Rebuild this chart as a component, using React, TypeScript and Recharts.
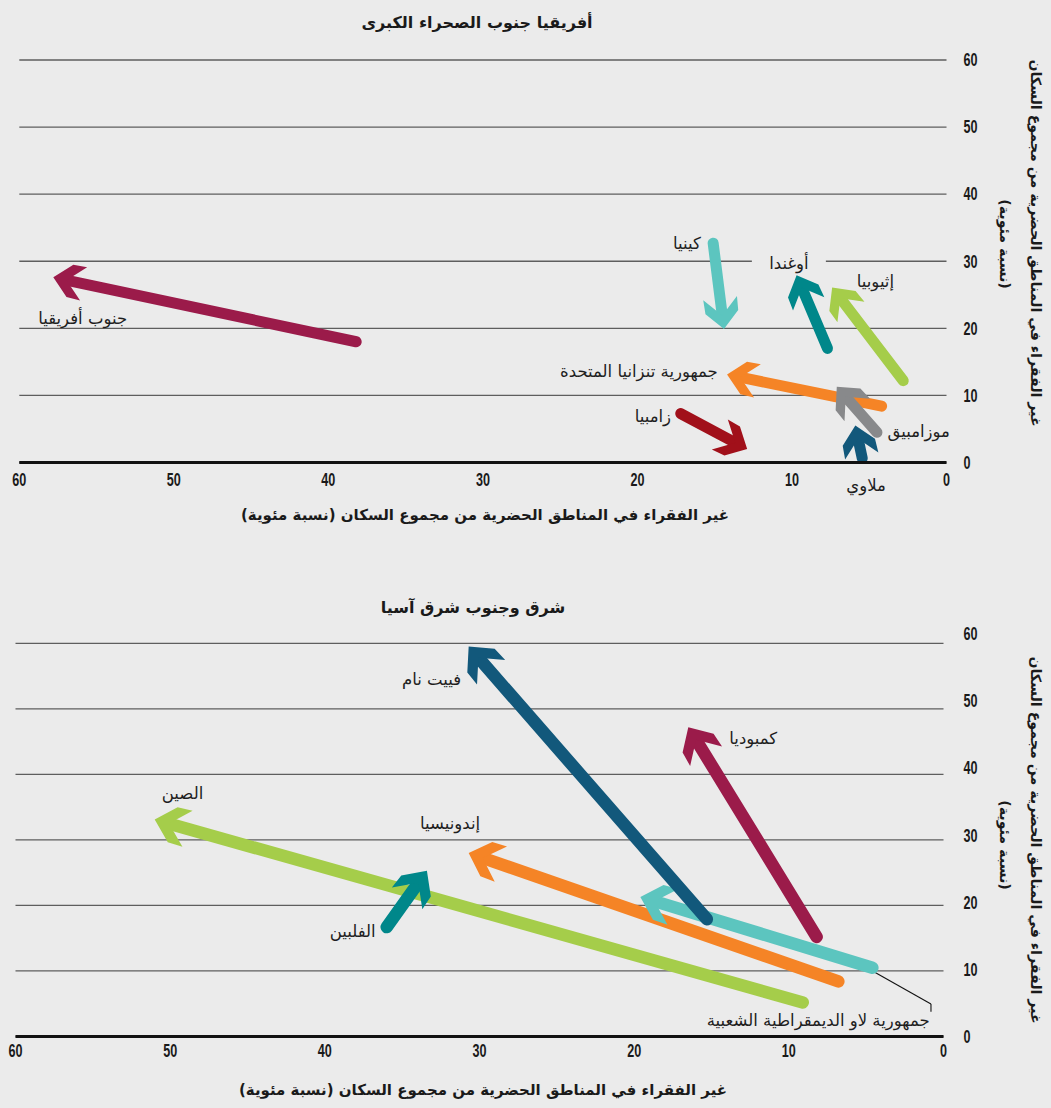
import React from 'react';
import { ComposedChart, XAxis, YAxis, CartesianGrid, ReferenceLine, ReferenceDot } from 'recharts';

// ---------- Data: Sub-Saharan Africa ----------
const africaCountries = ['جنوب أفريقيا', 'كينيا', 'أوغندا', 'إثيوبيا', 'جمهورية تنزانيا المتحدة', 'موزامبيق', 'ملاوي', 'زامبيا'];
const africaStartX = [38.2, 15.1, 7.7, 2.8, 4.2, 4.5, 5.45, 17.2];
const africaStartY = [18.0, 32.7, 17.0, 12.2, 8.4, 4.5, 0.6, 7.3];
const africaEndX = [57.8, 14.4, 9.7, 7.4, 14.2, 7.1, 5.9, 12.9];
const africaEndY = [27.6, 19.9, 27.9, 26.1, 13.1, 11.3, 5.5, 2.0];

// ---------- Data: East and South-East Asia ----------
const asiaCountries = ['الصين', 'إندونيسيا', 'جمهورية لاو الديمقراطية الشعبية', 'كمبوديا', 'فييت نام', 'الفلبين'];
const asiaStartX = [9.1, 6.8, 4.6, 8.2, 15.3, 36.0];
const asiaStartY = [5.2, 8.4, 10.5, 15.2, 17.9, 16.7];
const asiaEndX = [51.0, 30.7, 19.6, 16.5, 30.7, 33.4];
const asiaEndY = [33.1, 28.0, 21.3, 47.2, 59.5, 25.3];

// ---------- Tick values ----------
const xTicks = [0, 10, 20, 30, 40, 50, 60];
const yTicks = [0, 10, 20, 30, 40, 50, 60];

// ---------- Text ----------
const africaTitle = 'أفريقيا جنوب الصحراء الكبرى';
const asiaTitle = 'شرق وجنوب شرق آسيا';
const xTitle = 'غير الفقراء في المناطق الحضرية من مجموع السكان (نسبة مئوية)';
const yTitle1 = 'غير الفقراء في المناطق الحضرية من مجموع السكان';
const yTitle2 = '(نسبة مئوية)';

// ---------- Annotation placement (data units) ----------
const africaLabelX = [55.9, 16.8, 10.2, 4.6, 19.9, 1.8, 5.2, 19.0];
const africaLabelY = [21.5, 32.7, 29.7, 27.0, 13.55, 4.6, -3.4, 6.8];
const asiaLabelX = [49.2, 31.9, 8.1, 12.3, 33.1, 38.2];
const asiaLabelY = [37.1, 32.5, 2.5, 45.5, 54.4, 16.0];
const laoLeaderX = [4.96, 0.81, 0.81];
const laoLeaderY = [10.5, 4.96, 3.78];

// ---------- Styles ----------
const BG = '#ebebeb';
const MAROON = '#9b1b4a';
const LTEAL = '#5cc5bf';
const DTEAL = '#00878a';
const LGREEN = '#a5cd4a';
const ORANGE = '#f58426';
const GRAY = '#88898b';
const DBLUE = '#12587b';
const DRED = '#a1101a';
const africaColors = [MAROON, LTEAL, DTEAL, LGREEN, ORANGE, GRAY, DBLUE, DRED];
const asiaColors = [LGREEN, ORANGE, LTEAL, MAROON, DBLUE, DTEAL];
const ARABIC = "'DejaVu Sans', 'Noto Sans', sans-serif";
const NUMFONT = "'Liberation Sans', 'DejaVu Sans', sans-serif";

function makeArrow(color: string, width: number, k: number) {
  return (props: any) => {
    const { x1, y1, x2, y2 } = props;
    const dx = x2 - x1;
    const dy = y2 - y1;
    const len = Math.hypot(dx, dy) || 1;
    const ux = dx / len;
    const uy = dy / len;
    const nx = -uy;
    const ny = ux;
    const P = (back: number, side: number) =>
      `${x2 - back * k * ux + side * k * nx},${y2 - back * k * uy + side * k * ny}`;
    const sx = x2 - 15.5 * k * ux;
    const sy = y2 - 15.5 * k * uy;
    return (
      <g>
        <line x1={x1} y1={y1} x2={sx} y2={sy} stroke={color} strokeWidth={width} strokeLinecap="round" />
        <polygon
          points={[P(0, 0), P(17, 16.5), P(31, 17), P(13.5, 0), P(31, -17), P(17, -16.5)].join(' ')}
          fill={color}
        />
      </g>
    );
  };
}

function makeLabel(text: string, withBg: boolean) {
  return (props: any) => {
    const { cx, cy } = props;
    return (
      <g>
        {withBg && <rect x={cx - 37} y={cy - 11} width={74} height={22} fill={BG} />}
        <text x={cx} y={cy} textAnchor="middle" dominantBaseline="central" fontFamily={ARABIC} fontSize={16.5} fill="#1e1e1e">
          {text}
        </text>
      </g>
    );
  };
}

function NumText(props: { x: number; y: number; anchor: 'start' | 'middle'; value: number }) {
  return (
    <g transform={`translate(${props.x},${props.y}) scale(0.72,1)`}>
      <text x={0} y={0} textAnchor={props.anchor} dominantBaseline="central" fontFamily={NUMFONT} fontSize={17.5} fontWeight={700} fill="#1a1a1a">
        {props.value}
      </text>
    </g>
  );
}

function XTick(dyOff: number) {
  return (p: any) => <NumText x={p.x} y={p.y + dyOff} anchor="middle" value={p.payload.value} />;
}

function YTick(dxOff: number, drift: number) {
  return (p: any) => <NumText x={p.x + dxOff} y={p.y - p.payload.value * drift} anchor="start" value={p.payload.value} />;
}

type PanelProps = {
  width: number;
  height: number;
  margin: { top: number; right: number; bottom: number; left: number };
  xAxisHeight: number;
  yAxisWidth: number;
  names: string[];
  sx: number[];
  sy: number[];
  ex: number[];
  ey: number[];
  lx: number[];
  ly: number[];
  colors: string[];
  strokeW: number;
  headK: number;
  xTickDy: number;
  yTickDx: number;
  yDrift: number;
  bgLabels: number[];
  leader?: { x: number[]; y: number[] };
};

function Panel(p: PanelProps) {
  const data = p.sx.map((x, i) => ({ x, y: p.sy[i] }));
  return (
    <ComposedChart width={p.width} height={p.height} margin={p.margin} data={data}>
      <CartesianGrid horizontal vertical={false} stroke="#5e5e5e" strokeWidth={1.3} />
      <XAxis
        type="number"
        dataKey="x"
        domain={[0, 60]}
        ticks={xTicks}
        interval={0}
        reversed
        allowDataOverflow
        height={p.xAxisHeight}
        axisLine={{ stroke: '#111', strokeWidth: 3 }}
        tickLine={false}
        tickSize={0}
        tickMargin={0}
        tick={XTick(p.xTickDy)}
      />
      <YAxis
        type="number"
        dataKey="y"
        orientation="right"
        domain={[0, 60]}
        ticks={yTicks}
        interval={0}
        allowDataOverflow
        width={p.yAxisWidth}
        axisLine={false}
        tickLine={false}
        tickSize={0}
        tickMargin={0}
        tick={YTick(p.yTickDx, p.yDrift)}
      />
      {p.leader &&
        p.leader.x.slice(1).map((x, i) => (
          <ReferenceLine
            key={'ld' + i}
            segment={[
              { x: p.leader!.x[i], y: p.leader!.y[i] },
              { x, y: p.leader!.y[i + 1] },
            ]}
            stroke="#111"
            strokeWidth={1.1}
            ifOverflow="visible"
          />
        ))}
      {p.names.map((n, i) => (
        <ReferenceLine
          key={'ar' + i}
          segment={[
            { x: p.sx[i], y: p.sy[i] },
            { x: p.ex[i], y: p.ey[i] },
          ]}
          ifOverflow="visible"
          shape={makeArrow(p.colors[i], p.strokeW, p.headK)}
        />
      ))}
      {p.names.map((n, i) => (
        <ReferenceDot
          key={'lb' + i}
          x={p.lx[i]}
          y={p.ly[i]}
          r={0}
          ifOverflow="visible"
          shape={makeLabel(n, p.bgLabels.includes(i))}
        />
      ))}
    </ComposedChart>
  );
}

function HText(props: { text: string; x: number; y: number; rotate?: boolean; size?: number }) {
  return (
    <div
      dir="rtl"
      style={{
        position: 'absolute',
        left: props.x,
        top: props.y,
        transform: `translate(-50%, -50%)${props.rotate ? ' rotate(90deg)' : ''}`,
        whiteSpace: 'nowrap',
        fontFamily: ARABIC,
        fontWeight: 700,
        fontSize: props.size ?? 15,
        color: '#1a1a1a',
        lineHeight: 1,
      }}
    >
      {props.text}
    </div>
  );
}

export default function App() {
  return (
    <div style={{ position: 'absolute', left: 0, top: 0, width: 1051, height: 1108, background: BG, overflow: 'hidden' }}>
      <div style={{ position: 'absolute', left: 0, top: 0 }}>
        <Panel
          width={1051}
          height={545}
          margin={{ top: 60, right: 0, bottom: 0, left: 19.3 }}
          xAxisHeight={82.5}
          yAxisWidth={104.5}
          names={africaCountries}
          sx={africaStartX}
          sy={africaStartY}
          ex={africaEndX}
          ey={africaEndY}
          lx={africaLabelX}
          ly={africaLabelY}
          colors={africaColors}
          strokeW={11}
          headK={1}
          xTickDy={17.5}
          yTickDx={17}
          yDrift={0}
          bgLabels={[2]}
        />
      </div>
      <div style={{ position: 'absolute', left: 0, top: 560 }}>
        <Panel
          width={1051}
          height={548}
          margin={{ top: 83.3, right: 0, bottom: 0, left: 15.5 }}
          xAxisHeight={71.5}
          yAxisWidth={107.5}
          names={asiaCountries}
          sx={asiaStartX}
          sy={asiaStartY}
          ex={asiaEndX}
          ey={asiaEndY}
          lx={asiaLabelX}
          ly={asiaLabelY}
          colors={asiaColors}
          strokeW={12.5}
          headK={1.1}
          xTickDy={14}
          yTickDx={20}
          yDrift={0.155}
          bgLabels={[]}
          leader={{ x: laoLeaderX, y: laoLeaderY }}
        />
      </div>
      <HText text={africaTitle} x={477} y={23} size={16} />
      <HText text={xTitle} x={485} y={515} />
      <HText text={yTitle1} x={1036} y={243} rotate size={14.2} />
      <HText text={yTitle2} x={1005} y={244} rotate size={14.2} />
      <HText text={asiaTitle} x={473} y={608} size={16} />
      <HText text={xTitle} x={483} y={1090} />
      <HText text={yTitle1} x={1036} y={840} rotate size={14.2} />
      <HText text={yTitle2} x={1005} y={845} rotate size={14.2} />
    </div>
  );
}
